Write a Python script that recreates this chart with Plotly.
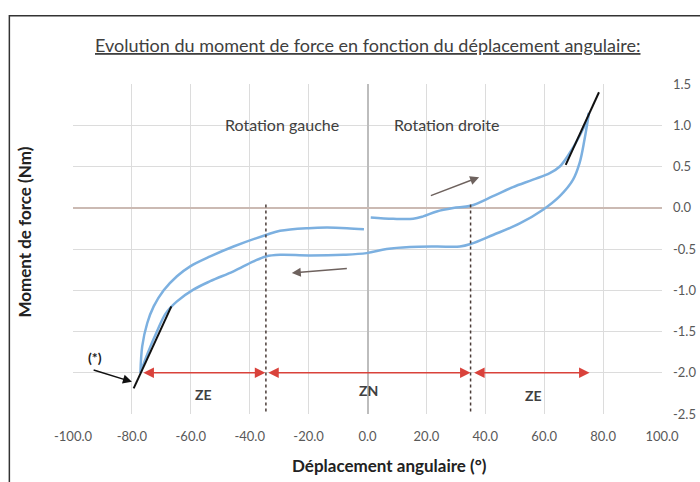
import plotly.graph_objects as go

# ---- data ----
lower_x = [-77.1, -74.5, -71.5, -68.5, -64.7, -59.0, -53.4, -45.5, -38.7, -34.5, -29.7, -20.0, -8.2,
           -0.3, 6.5, 14.4, 23.5, 31.4, 35.0, 42.6, 51.7, 59.6, 65.3, 69.8, 72.0, 73.7, 75.2]
lower_y = [-2.0, -1.75, -1.50, -1.28, -1.135, -0.99, -0.89, -0.77, -0.65, -0.59, -0.57, -0.578, -0.57,
           -0.55, -0.50, -0.476, -0.47, -0.47, -0.44, -0.33, -0.19, -0.024, 0.14, 0.34, 0.54, 0.83, 1.15]

upper_left_x = [-77.1, -76.5, -74.8, -72.6, -69.2, -64.7, -60.2, -53.4, -45.5, -34.5, -29.7, -20.0, -13.8, -7.0, -1.2]
upper_left_y = [-2.0, -1.68, -1.40, -1.196, -1.0, -0.83, -0.71, -0.59, -0.47, -0.33, -0.28, -0.247, -0.24, -0.247, -0.26]

upper_right_x = [1.1, 8.7, 15.5, 18.9, 23.5, 29.1, 35.0, 42.6, 49.4, 56.2, 61.9, 65.3, 68.6, 72.0, 74.8, 75.2]
upper_right_y = [-0.118, -0.134, -0.134, -0.105, -0.045, -0.004, 0.024, 0.14, 0.25, 0.34, 0.42, 0.50, 0.66, 0.87, 1.09, 1.15]

tangent_left_x = [-79.4, -66.6]
tangent_left_y = [-2.19, -1.196]
tangent_right_x = [67.3, 78.6]
tangent_right_y = [0.52, 1.40]

limit_x = [-34.5, 35.0]
limit_y = [0.04, -2.5]

zone_start = [-76.6, -34.2, 35.7]
zone_end = [-34.7, 35.0, 75.4]
zone_y = -2.0
zone_labels = ["ZE", "ZN", "ZE"]
zone_label_x = [-55.7, 0.3, 56.2]
zone_label_y = [-2.26, -2.22, -2.28]

x_ticks = [-100, -80, -60, -40, -20, 0, 20, 40, 60, 80, 100]
x_ticklabels = ["-100.0", "-80.0", "-60.0", "-40.0", "-20.0", "0.0", "20.0", "40.0", "60.0", "80.0", "100.0"]
y_ticks = [-2.5, -2.0, -1.5, -1.0, -0.5, 0.0, 0.5, 1.0, 1.5]
y_ticklabels = ["-2.5", "-2.0", "-1.5", "-1.0", "-0.5", "0.0", "0.5", "1.0", "1.5"]

title_text = "Evolution du moment de force en fonction du déplacement angulaire:"
x_title = "Déplacement angulaire (°)"
y_title = "Moment de force (Nm)"

FONT = "Lato"
BLUE = "#7cb0e0"
GRID = "#dcdcdc"
TXT = "#404040"
RED = "#d9423b"
ARROW_GREY = "#6e625e"

W, H = 700, 482
L, R, T, B = 72.5, 700 - 662.5, 84, 482 - 414
pw, ph = W - L - R, H - T - B


def px_x(p):
    return (p - L) / pw


def px_y(p):
    return (H - B - p) / ph


fig = go.Figure()

for xs, ys in [(lower_x, lower_y), (upper_left_x, upper_left_y), (upper_right_x, upper_right_y)]:
    fig.add_trace(go.Scatter(x=xs, y=ys, mode="lines", line=dict(color=BLUE, width=2.5, shape="spline"),
                             hoverinfo="skip", showlegend=False))

for xs, ys in [(tangent_left_x, tangent_left_y), (tangent_right_x, tangent_right_y)]:
    fig.add_trace(go.Scatter(x=xs, y=ys, mode="lines", line=dict(color="#111111", width=2),
                             hoverinfo="skip", showlegend=False))

for lx in limit_x:
    fig.add_trace(go.Scatter(x=[lx, lx], y=limit_y, mode="lines",
                             line=dict(color="#4a3c38", width=1.5, dash="dot"),
                             hoverinfo="skip", showlegend=False))

annotations = []
for s, e in zip(zone_start, zone_end):
    annotations.append(dict(x=e, y=zone_y, ax=s, ay=zone_y, xref="x", yref="y", axref="x", ayref="y",
                            text="", showarrow=True, arrowhead=2, arrowside="end+start",
                            arrowsize=1.4, arrowwidth=1.5, arrowcolor=RED))
for lab, lx, ly in zip(zone_labels, zone_label_x, zone_label_y):
    annotations.append(dict(x=lx, y=ly, xref="x", yref="y", text="<b>" + lab + "</b>", showarrow=False,
                            font=dict(family=FONT, size=14, color=TXT)))

annotations.append(dict(x=-80.0, y=-2.11, ax=-93.5, ay=-1.96, xref="x", yref="y", axref="x", ayref="y",
                        text="", showarrow=True, arrowhead=2, arrowsize=1.2, arrowwidth=1.5, arrowcolor="#111111"))
annotations.append(dict(x=-92.7, y=-1.81, xref="x", yref="y", text="<b>(*)</b>", showarrow=False,
                        font=dict(family=FONT, size=14, color="#222222")))

annotations.append(dict(x=37.9, y=0.37, ax=21.0, ay=0.14, xref="x", yref="y", axref="x", ayref="y",
                        text="", showarrow=True, arrowhead=2, arrowsize=1.2, arrowwidth=1.5, arrowcolor=ARROW_GREY))
annotations.append(dict(x=-25.7, y=-0.79, ax=-6.5, ay=-0.735, xref="x", yref="y", axref="x", ayref="y",
                        text="", showarrow=True, arrowhead=2, arrowsize=1.2, arrowwidth=1.5, arrowcolor=ARROW_GREY))

annotations.append(dict(x=-29.0, y=1.01, xref="x", yref="y", text="Rotation gauche", showarrow=False,
                        font=dict(family=FONT, size=16, color=TXT)))
annotations.append(dict(x=26.9, y=1.01, xref="x", yref="y", text="Rotation droite", showarrow=False,
                        font=dict(family=FONT, size=16, color=TXT)))

annotations.append(dict(x=px_x(368), y=px_y(45), xref="paper", yref="paper", xanchor="center", yanchor="middle",
                        text="<u>" + title_text + "</u>", showarrow=False, font=dict(family=FONT, size=18, color=TXT)))
annotations.append(dict(x=px_x(390), y=px_y(465), xref="paper", yref="paper", xanchor="center", yanchor="middle",
                        text="<b>" + x_title + "</b>", showarrow=False, font=dict(family=FONT, size=17, color="#222222")))
annotations.append(dict(x=px_x(23), y=px_y(232), xref="paper", yref="paper", xanchor="center", yanchor="middle",
                        text="<b>" + y_title + "</b>", textangle=-90, showarrow=False,
                        font=dict(family=FONT, size=17, color="#222222")))

fig.update_layout(
    width=W, height=H,
    margin=dict(l=L, r=R, t=T, b=B, autoexpand=False),
    paper_bgcolor="white", plot_bgcolor="white",
    showlegend=False,
    annotations=annotations,
    shapes=[dict(type="rect", xref="paper", yref="paper",
                 x0=px_x(8.75), x1=px_x(720), y0=px_y(500), y1=px_y(15.75),
                 line=dict(color="#333333", width=1.5), fillcolor="rgba(0,0,0,0)", layer="above")],
    xaxis=dict(range=[-100, 100], tickvals=x_ticks, ticktext=x_ticklabels, showgrid=True, gridcolor=GRID,
               zeroline=True, zerolinecolor="#bdbdbd", zerolinewidth=1.5, showline=False,
               tickfont=dict(family=FONT, size=13, color="#595959"), ticks="", ticklabelstandoff=13,
               fixedrange=True),
    yaxis=dict(range=[-2.5, 1.5], tickvals=y_ticks, ticktext=y_ticklabels, side="right", showgrid=True,
               gridcolor=GRID, zeroline=True, zerolinecolor="#cbbab3", zerolinewidth=1.5, showline=False,
               tickfont=dict(family=FONT, size=13, color="#595959"), ticks="", ticklabelstandoff=10,
               fixedrange=True),
)

fig.write_html("out.html", config={"displayModeBar": False},
               post_script="document.body.style.margin='0';document.body.style.overflow='hidden';"
                           "document.documentElement.style.overflow='hidden';")
